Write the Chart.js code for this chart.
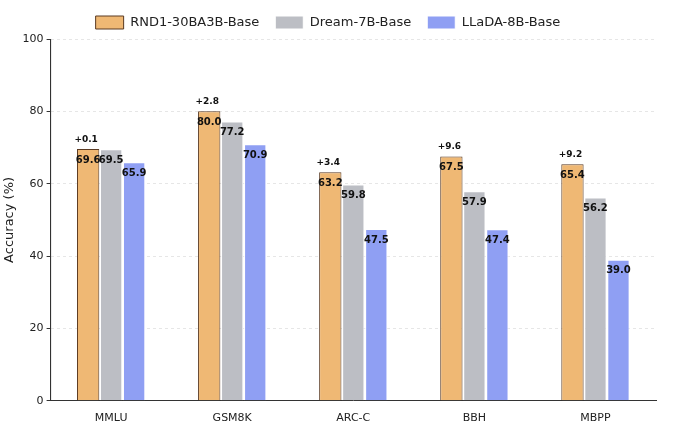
<!DOCTYPE html>
<html><head><meta charset="utf-8">
<script src="https://cdn.jsdelivr.net/npm/chart.js@4"></script>
<style>body{margin:0;background:#fff}#wrap{width:680px;height:432px}</style>
</head><body><div id="wrap"><canvas id="c"></canvas></div>
<script>
const categories = ['MMLU', 'GSM8K', 'ARC-C', 'BBH', 'MBPP'];
const rnd1 = [69.6, 80.0, 63.2, 67.5, 65.4];
const dream = [69.5, 77.2, 59.8, 57.9, 56.2];
const llada = [65.9, 70.9, 47.5, 47.4, 39.0];
const deltas = ['+0.1', '+2.8', '+3.4', '+9.6', '+9.2'];

const labelPlugin = {
  id: 'labels',
  afterDatasetsDraw(chart) {
    const ctx = chart.ctx;
    ctx.save();
    ctx.textAlign = 'center';
    ctx.fillStyle = '#111';
    chart.data.datasets.forEach((ds, i) => {
      chart.getDatasetMeta(i).data.forEach((bar, j) => {
        ctx.font = 'bold 10px "DejaVu Sans"';
        ctx.textBaseline = 'top';
        ctx.fillText(ds.data[j].toFixed(1), bar.x, bar.y + 6);
        if (i === 0) {
          ctx.font = 'bold 9px "DejaVu Sans"';
          ctx.textBaseline = 'bottom';
          ctx.fillText(deltas[j], bar.x - 2, bar.y - 5);
        }
      });
    });
    ctx.restore();
  }
};

new Chart(document.getElementById('c'), {
  type: 'bar',
  data: {
    labels: categories,
    datasets: [
      {label: 'RND1-30BA3B-Base', data: rnd1, backgroundColor: '#efb874', borderColor: '#5a3a22', borderWidth: 1},
      {label: 'Dream-7B-Base', data: dream, backgroundColor: '#bcbec4', borderColor: '#fff', borderWidth: 1},
      {label: 'LLaDA-8B-Base', data: llada, backgroundColor: '#8f9ff3', borderColor: '#fff', borderWidth: 1}
    ]
  },
  options: {
    responsive: true,
    maintainAspectRatio: false,
    animation: false,
    layout: {padding: {left: 0, right: 24, top: 0, bottom: 4}},
    datasets: {bar: {categoryPercentage: 0.57, barPercentage: 0.97}},
    plugins: {
      legend: {
        position: 'top',
        labels: {font: {family: 'DejaVu Sans', size: 13}, color: '#222', boxWidth: 28, boxHeight: 13, padding: 16}
      },
      tooltip: {enabled: false}
    },
    scales: {
      x: {
        grid: {display: false},
        border: {color: '#333'},
        ticks: {font: {family: 'DejaVu Sans', size: 11}, color: '#222'}
      },
      y: {
        min: 0, max: 100,
        ticks: {stepSize: 20, font: {family: 'DejaVu Sans', size: 11}, color: '#222'},
        grid: {color: '#e6e6e6', tickLength: 4, tickColor: '#333'},
        border: {color: '#333', dash: [3, 3]},
        title: {display: true, text: 'Accuracy (%)', font: {family: 'DejaVu Sans', size: 13}, color: '#222', padding: 2}
      }
    }
  },
  plugins: [labelPlugin, {
    id: 'axisLine',
    afterDraw(chart) {
      const {ctx, chartArea: a} = chart;
      ctx.save();
      ctx.strokeStyle = '#333';
      ctx.lineWidth = 1;
      ctx.beginPath();
      ctx.moveTo(a.left, a.top);
      ctx.lineTo(a.left, a.bottom);
      ctx.stroke();
      ctx.restore();
    }
  }]
});
</script></body></html>
